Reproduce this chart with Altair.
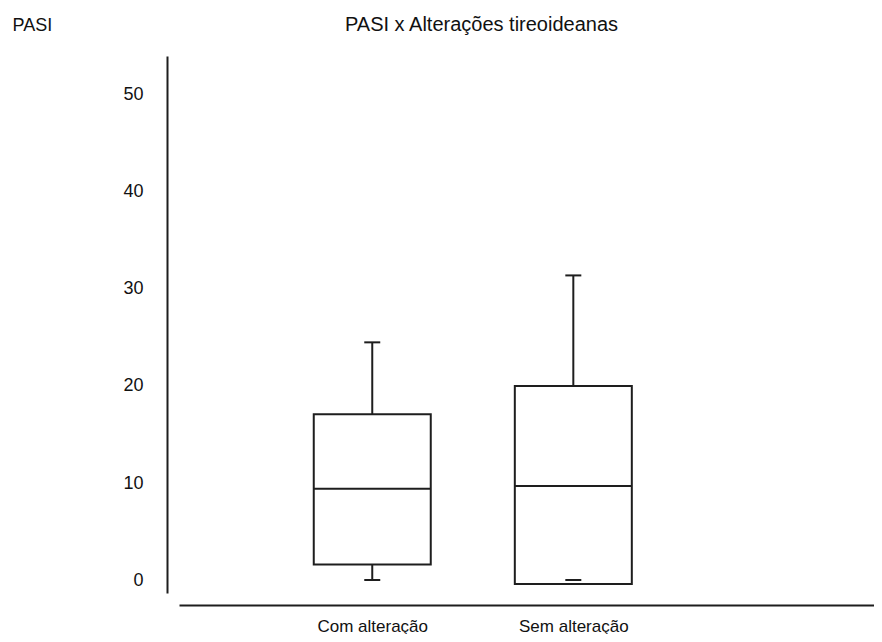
import altair as alt
import pandas as pd

groups = ["Com alteração", "Sem alteração"]
group_pos = [1, 2]
q_min = [0.0, 0.0]
q1 = [1.6, -0.4]
median = [9.4, 9.7]
q3 = [17.1, 20.0]
q_max = [24.5, 31.4]
y_ticks = [0, 10, 20, 30, 40, 50]

df = pd.DataFrame({"grupo": groups, "pos": group_pos, "min": q_min, "q1": q1,
                   "med": median, "q3": q3, "max": q_max})

FONT = "Liberation Sans"
INK = "#1e1e1e"

label_expr = " : ".join(
    [f"datum.value == {p} ? '{g}'" for p, g in zip(group_pos[:-1], groups[:-1])]
    + [f"'{groups[-1]}'"])

x = alt.X("pos:Q", scale=alt.Scale(domain=[0.0637, 3.4706], nice=False, zero=False),
          axis=alt.Axis(title=None, values=group_pos, labelExpr=label_expr,
                        labelAngle=0, ticks=False, grid=False, domain=True,
                        domainColor=INK, domainWidth=2, offset=12, labelPadding=13,
                        labelFont=FONT, labelFontSize=17, labelColor="#111",
                        labelBaseline="top", labelFlush=False))
yscale = alt.Scale(domain=[-1.34, 54.02], nice=False, zero=False)
yaxis = alt.Axis(values=y_ticks, grid=False, ticks=False, domain=True,
                 domainColor=INK, domainWidth=2, offset=12, labelPadding=24,
                 labelFont=FONT, labelFontSize=18, labelColor="#111",
                 title="PASI", titleAngle=0, titleX=-155, titleY=-31,
                 titleAlign="left", titleBaseline="middle", titleFont=FONT,
                 titleFontSize=18, titleFontWeight="normal", titleColor="#111")

base = alt.Chart(df)
upper = base.mark_rule(color=INK, strokeWidth=2, opacity=1).encode(
    x=x, y=alt.Y("q3:Q", scale=yscale, axis=yaxis), y2="max:Q")
lower = base.mark_rule(color=INK, strokeWidth=2, opacity=1).encode(
    x=x, y=alt.Y("min:Q", scale=yscale), y2="q1:Q")
box = base.mark_bar(size=117, fill="white", stroke=INK, strokeWidth=2, opacity=1,
                    orient="vertical").encode(
    x=x, y=alt.Y("q1:Q", scale=yscale), y2="q3:Q")
med = base.mark_tick(size=117, thickness=2, color=INK, opacity=1, orient="horizontal").encode(
    x=x, y=alt.Y("med:Q", scale=yscale))
cap_hi = base.mark_tick(size=16, thickness=2, color=INK, opacity=1, orient="horizontal").encode(
    x=x, y=alt.Y("max:Q", scale=yscale))
cap_lo = base.mark_tick(size=16, thickness=2, color=INK, opacity=1, orient="horizontal").encode(
    x=x, y=alt.Y("min:Q", scale=yscale))

chart = alt.layer(upper, lower, box, med, cap_hi, cap_lo).properties(
    width=695, height=537,
    background="white",
    autosize=alt.AutoSizeParams(type="none"),
    padding={"left": 171, "top": 48, "right": 0, "bottom": 41},
    title=alt.TitleParams("PASI x Alterações tireoideanas", anchor="middle",
                          frame="group", dx=-45, dy=23, font=FONT, fontSize=20,
                          fontWeight="normal", color="#111"),
).configure_view(strokeWidth=0, stroke="transparent")

chart.save("out.html", embed_options={"renderer": "svg", "actions": False})
